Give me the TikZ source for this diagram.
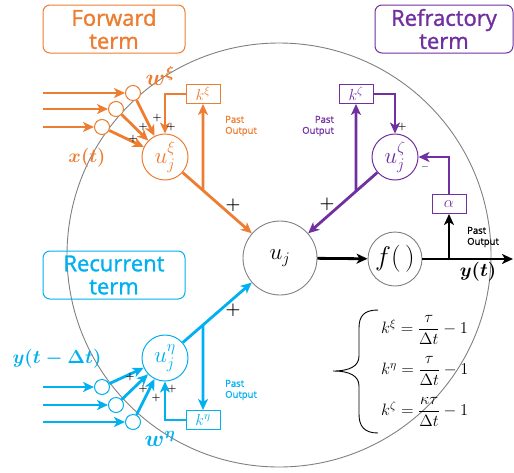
\RequirePackage{fix-cm}
\documentclass[tikz,border=0pt]{standalone}
\usepackage{amsmath,amssymb}
\usepackage{fontspec}
\setsansfont{Open Sans}
\newfontfamily\titlefont[FakeBold=1.4]{Open Sans}
\usepackage{tikz}
\usetikzlibrary{arrows.meta}
\usetikzlibrary{calc}
\usepackage{xcolor}
\definecolor{FwdOrange}{RGB}{237,125,49}
\definecolor{RefPurple}{RGB}{112,48,160}
\definecolor{RecBlue}{RGB}{0,176,240}
\tikzset{
	>={Stealth[length=11pt, width=10pt, inset=3pt]},
	cellborder/.style={gray, line width=0.9pt},
	neuron/.style={circle, draw=gray, line width=0.9pt, fill=white, minimum size=74pt, inner sep=0pt, font=\fontsize{23}{25}\selectfont},
	subunit/.style={circle, draw=#1, text=#1, line width=1pt, fill=white, minimum size=46pt, inner sep=0pt, font=\fontsize{23}{25}\selectfont},
	weight/.style={circle, draw=#1, line width=1pt, fill=white, minimum size=15pt, inner sep=0pt},
	gainbox/.style={draw=#1, text=#1, line width=1pt, fill=white, minimum width=34pt, minimum height=19pt, inner sep=0pt, font=\fontsize{16}{17}\selectfont},
	flow/.style={#1, line width=2.8pt, ->},
	termbox/.style={draw=#1, text=#1, line width=1pt, rounded corners=7pt, minimum width=142pt, minimum height=48pt, align=center, font=\titlefont\fontsize{22}{23}\selectfont},
	pastout/.style={text=#1, align=left, inner sep=0pt, font=\titlefont\fontsize{9.5}{11}\selectfont},
	bigsign/.style={font=\bfseries\fontsize{17}{17}\selectfont, inner sep=0pt},
	smallsign/.style={font=\bfseries\fontsize{10}{10}\selectfont, inner sep=0pt},
	varlabel/.style={text=#1, inner sep=0pt, font=\fontsize{19}{20}\selectfont},
	eqline/.style={anchor=west, inner sep=0pt, font=\fontsize{16.5}{18}\selectfont},
	eqbrace/.style={black, line width=0.9pt},
}

\begin{document}
\begin{tikzpicture}[x=1pt, y=-1pt]
	\useasboundingbox (0,0) rectangle (514,472);
	
	% Cell body
	\draw[cellborder] (279,255) circle[radius=212pt];
	
	% Main units
	\node[neuron] (uj) at (280,258) {$u_j$};
	\node[neuron, minimum size=54pt, font=\fontsize{27}{29}\selectfont] (act) at (395,259) {$f(\,)$};
	\node[subunit=FwdOrange] (uxi) at (165,157) {$u_j^{\xi}$};
	\node[subunit=RefPurple] (uzeta) at (395,157) {$u_j^{\zeta}$};
	\node[subunit=RecBlue] (ueta) at (165,358) {$u_j^{\eta}$};
	
	% Gain boxes
	\node[gainbox=FwdOrange] (kxi) at (203,94) {$k^{\xi}$};
	\node[gainbox=RefPurple] (kzeta) at (356,94) {$k^{\zeta}$};
	\node[gainbox=RecBlue] (keta) at (203,420) {$k^{\eta}$};
	\node[gainbox=RefPurple] (alpha) at (449,204) {$\alpha$};
	
	% Term titles
	\node[termbox=FwdOrange] (fwd) at (114,29) {Forward\\term};
	\node[termbox=RefPurple, minimum width=138pt] (refr) at (444,29) {Refractory\\term};
	\node[termbox=RecBlue] (recur) at (114,275) {Recurrent\\term};
	
	% Forward term
	\node[weight=FwdOrange] (wxi1) at (133,93) {};
	\node[weight=FwdOrange] (wxi2) at (116,109) {};
	\node[weight=FwdOrange] (wxi3) at (102,127) {};
	\foreach \i/\y in {1/93,2/109,3/127} {
		\coordinate (xin\i) at (43,\y);
		\draw[flow=FwdOrange] (xin\i) -- (wxi\i);
		\draw[flow=FwdOrange] (wxi\i) -- (uxi);
	}
	\coordinate (bxi) at (intersection of uxi--uj and kxi.south--kxi.north);
	\draw[flow=FwdOrange] (uxi) -- (uj);
	\draw[flow=FwdOrange] (bxi) -- (kxi.south);
	\draw[flow=FwdOrange] (kxi.west) -| (uxi.north);
	\node[varlabel=FwdOrange, font=\fontsize{23}{24}\selectfont] (wxilab) at (160,76) {$\boldsymbol{w^{\xi}}$};
	\node[varlabel=FwdOrange] (xlab) at (87,158) {$\boldsymbol{x(t)}$};
	\node[pastout=FwdOrange, anchor=west] (pxi) at (225,126) {Past\\Output};
	
	% Refractory term
	\coordinate (bzeta) at (intersection of uzeta--uj and kzeta.south--kzeta.north);
	\draw[flow=RefPurple] (uzeta) -- (uj);
	\draw[flow=RefPurple] (bzeta) -- (kzeta.south);
	\draw[flow=RefPurple] (kzeta.east) -| (uzeta.north);
	\draw[flow=RefPurple] (alpha.north) |- (uzeta.east);
	\node[pastout=RefPurple, anchor=east, align=right] (pzeta) at (334,126) {Past\\Output};
	
	% Output
	\coordinate (yend) at (513,259);
	\coordinate (bout) at (alpha |- act);
	\draw[flow=black] (uj) -- (act);
	\draw[flow=black] (act) -- (yend);
	\draw[flow=black] (bout) -- (alpha.south);
	\node[pastout=black, anchor=west] (pout) at (467,237) {Past\\Output};
	\node[varlabel=black] (ylab) at (478,272) {$\boldsymbol{y(t)}$};
	
	% Recurrent term
	\node[weight=RecBlue] (weta1) at (102,387) {};
	\node[weight=RecBlue] (weta2) at (116,405) {};
	\node[weight=RecBlue] (weta3) at (133,422) {};
	\foreach \i/\y in {1/387,2/405,3/422} {
		\coordinate (yin\i) at (43,\y);
		\draw[flow=RecBlue] (yin\i) -- (weta\i);
		\draw[flow=RecBlue] (weta\i) -- (ueta);
	}
	\coordinate (beta) at (intersection of ueta--uj and keta.south--keta.north);
	\draw[flow=RecBlue] (ueta) -- (uj);
	\draw[flow=RecBlue] (beta) -- (keta.north);
	\draw[flow=RecBlue] (keta.west) -| (ueta.south);
	\node[varlabel=RecBlue] (ydlab) at (57,359) {$\boldsymbol{y(t-\Delta t)}$};
	\node[varlabel=RecBlue, font=\fontsize{23}{24}\selectfont] (wetalab) at (160,439) {$\boldsymbol{w^{\eta}}$};
	\node[pastout=RecBlue, anchor=west] (peta) at (225,390) {Past\\Output};
	
	% Signs
	\node[bigsign] (s1) at (233,205) {+};
	\node[bigsign] (s2) at (327,204) {+};
	\node[bigsign] (s3) at (233,310) {+};
	\foreach \p in {(157,118),(143,127),(171,127),(133,139),(402,127),(130,377),(143,389),(156,398),(172,389)}
		\node[smallsign] at \p {+};
	\node[smallsign] (minus) at (425,167) {$-$};
	
	% Time constants
	\draw[eqbrace] (378,310) .. controls (364,310) and (359,316) .. (359,328) -- (359,356)
		.. controls (359,366) and (350,371) .. (333,371)
		.. controls (350,371) and (359,376) .. (359,386) -- (359,414)
		.. controls (359,426) and (364,433) .. (378,433);
	\node[eqline] (eqxi) at (381,330) {$k^{\xi} = \dfrac{\tau}{\Delta t} - 1$};
	\node[eqline] (eqeta) at (381,371) {$k^{\eta} = \dfrac{\tau}{\Delta t} - 1$};
	\node[eqline] (eqzeta) at (381,412) {$k^{\zeta} = \dfrac{\kappa\tau}{\Delta t} - 1$};
	
\end{tikzpicture}
\end{document}
